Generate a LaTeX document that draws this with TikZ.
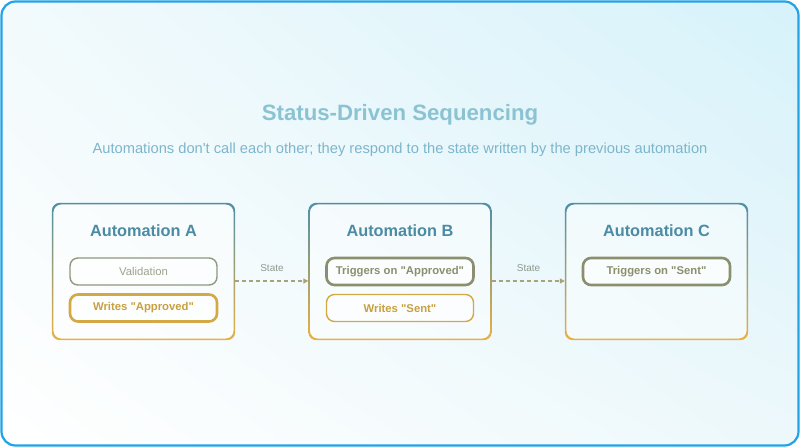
\documentclass[tikz,border=0pt]{standalone}
\usepackage{fontspec}
\setmainfont{Liberation Sans}
\usetikzlibrary{arrows.meta,shadings}
\definecolor{framec}{HTML}{22A3E6}
\definecolor{boxtop}{HTML}{4E8FA8}
\definecolor{boxbot}{HTML}{EBB043}
\definecolor{autot}{HTML}{4B8BA3}
\definecolor{valc}{HTML}{8E9A7C}
\definecolor{valt}{HTML}{9CA38E}
\definecolor{wrc}{HTML}{D4A845}
\definecolor{wrt}{HTML}{C9A040}
\definecolor{trc}{HTML}{8C8F6E}
\definecolor{titlec}{HTML}{8CC3D3}
\definecolor{subc}{HTML}{7DB6CC}
\definecolor{arrc}{HTML}{A9A27A}
\definecolor{statec}{HTML}{8E9A90}
\definecolor{bgtr}{HTML}{D6F2FA}
\definecolor{bgtl}{HTML}{F2FAFC}
\definecolor{bgbr}{HTML}{EDF8FB}
\newcommand\qq{\textquotedbl}
\newcommand\gradring[1]{%
  \shade[top color=boxtop,bottom color=boxbot,even odd rule,rounded corners=8bp]
    (#1.north west) rectangle (#1.south east)
    ([shift={(1.6,1.6)}]#1.north west) rectangle ([shift={(-1.6,-1.6)}]#1.south east);}
\begin{document}
\begin{tikzpicture}[x=1bp,y=-1bp,
  bigbox/.style={minimum width=183bp,minimum height=137bp,inner sep=0pt,
     rounded corners=8bp,fill=white,fill opacity=0.45},
  autotitle/.style={text=autot,font=\fontsize{16.3bp}{18bp}\selectfont\bfseries,inner sep=0pt},
  pill/.style={minimum width=147bp,minimum height=27bp,inner sep=0pt,rounded corners=8bp,
     fill=white,fill opacity=0.6,text opacity=1,font=\fontsize{11.3bp}{13bp}\selectfont},
  valpill/.style={pill,draw=valc,line width=1.4bp,text=valt},
  wrthick/.style={pill,draw=wrc,line width=2.6bp,text=wrt,font=\fontsize{11.3bp}{13bp}\selectfont\bfseries},
  wrthin/.style={pill,draw=wrc,line width=1.4bp,text=wrt,font=\fontsize{11.3bp}{13bp}\selectfont\bfseries},
  trpill/.style={pill,draw=trc,line width=2.6bp,text=trc,font=\fontsize{11.3bp}{13bp}\selectfont\bfseries},
  flow/.style={draw=arrc,line width=1.4bp,dash pattern=on 4bp off 3bp,-{Triangle[length=5bp,width=5bp]}},
  statelbl/.style={text=statec,font=\fontsize{10bp}{12bp}\selectfont,inner sep=0pt}]
\useasboundingbox (0,0) rectangle (800,447);
\shade[rounded corners=14bp,upper left=bgtl,upper right=bgtr,lower left=white,lower right=bgbr]
  (1.5,1.5) rectangle (798.5,445.5);
\draw[framec,line width=2.2bp,rounded corners=14bp] (1.5,1.5) rectangle (798.5,445.5);
\node[text=titlec,font=\fontsize{22.2bp}{26bp}\selectfont\bfseries,inner sep=0pt] (title) at (400,115) {Status-Driven Sequencing};
\node[text=subc,font=\fontsize{14.7bp}{17bp}\selectfont,inner sep=0pt] (sub) at (400,150) {Automations don\textquotesingle t call each other; they respond to the state written by the previous automation};
% boxes
\node[bigbox] (A) at (143.5,271.5) {};
\node[bigbox] (B) at (400,271.5) {};
\node[bigbox] (C) at (656.5,271.5) {};
\gradring{A}\gradring{B}\gradring{C}
\node[autotitle] (At) at (143.5,231) {Automation A};
\node[autotitle] (Bt) at (400,231) {Automation B};
\node[autotitle] (Ct) at (656.5,231) {Automation C};
\node[valpill] (A1) at (143.5,271.5) {Validation};
\node[wrthick] (A2) at (143.5,308) {Writes \qq Approved\qq};
\node[trpill] (B1) at (400,271.5) {Triggers on \qq Approved\qq};
\node[wrthin] (B2) at (400,308) {Writes \qq Sent\qq};
\node[trpill] (C1) at (656.5,271.5) {Triggers on \qq Sent\qq};
\coordinate (a1) at (A.east |- 0,281);
\coordinate (b1) at (B.west |- 0,281);
\coordinate (b2) at (B.east |- 0,281);
\coordinate (c1) at (C.west |- 0,281);
\draw[flow] (a1) -- (b1);
\draw[flow] (b2) -- (c1);
\node[statelbl] (s1) at (272,268) {State};
\node[statelbl] (s2) at (528.5,268) {State};
\end{tikzpicture}
\end{document}
